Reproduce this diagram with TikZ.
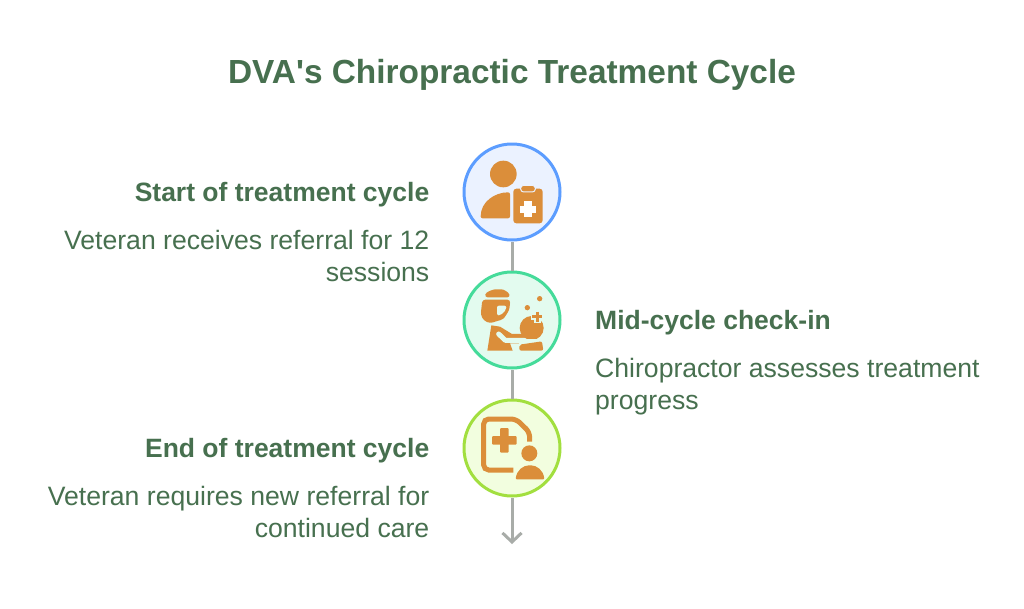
\documentclass[tikz,border=0pt]{standalone}
\usepackage{fontspec}
\setmainfont[Ligatures=TeXOff]{Liberation Sans}
\usetikzlibrary{arrows.meta}
\definecolor{txtgreen}{HTML}{47704F}
\definecolor{iconorange}{HTML}{DB8E3A}
\definecolor{linegray}{HTML}{A8ACA8}
\definecolor{fillA}{HTML}{EBF2FF}
\definecolor{edgeA}{HTML}{5C9DFF}
\definecolor{fillB}{HTML}{E3FBEF}
\definecolor{edgeB}{HTML}{45DB9A}
\definecolor{fillC}{HTML}{F2FEDF}
\definecolor{edgeC}{HTML}{A2DF3F}
\tikzset{
  stepcircle/.style={circle,inner sep=0pt,minimum size=96pt,line width=3pt},
  titletext/.style={text=txtgreen,font=\fontsize{33.4}{38}\selectfont\bfseries,anchor=base},
  headtext/.style={text=txtgreen,font=\fontsize{26.5}{32}\selectfont\bfseries,inner sep=0pt},
  bodytext/.style={text=txtgreen,font=\fontsize{26.6}{32}\selectfont,inner sep=0pt,align=left},
  bodyright/.style={bodytext,align=right},
  link/.style={draw=linegray,line width=3pt},
  zoomA/.style={shift={(450pt,-130pt)},x=0.3333pt,y=-0.3333pt},
  zoomB/.style={shift={(450pt,-260pt)},x=0.3333pt,y=-0.3333pt},
  zoomC/.style={shift={(450pt,-390pt)},x=0.3333pt,y=-0.3333pt},
}
\begin{document}
\begin{tikzpicture}[x=1pt,y=-1pt]
\useasboundingbox[fill=white] (0,0) rectangle (1024,608);
\node[titletext] (title) at (512,83) {DVA's Chiropractic Treatment Cycle};

\node[stepcircle,fill=fillA,draw=edgeA] (c1) at (512,192) {};
\node[stepcircle,fill=fillB,draw=edgeB] (c2) at (512,320) {};
\node[stepcircle,fill=fillC,draw=edgeC] (c3) at (512,448) {};
\coordinate (tail) at (512,544);
\draw[link] (c1) -- (c2);
\draw[link] (c2) -- (c3);
\draw[link,-{Straight Barb[length=9pt,width=19pt,line width=3pt]}] (c3) -- (tail);

% icon 1
\begin{scope}[zoomA]
\fill[iconorange] (160,132) circle (40);
\fill[iconorange,rounded corners=2pt] (92,265) .. controls (92,215) and (135,187) .. (180,187) -- (180,265) -- cycle;
\fill[iconorange,rounded corners=3pt] (190,176) rectangle (278,280);
\fill[iconorange,rounded corners=3pt,draw=fillA,line width=1pt] (212,166) rectangle (256,186);
\fill[white] (223,214) rectangle (245,262);
\fill[white] (209,227) rectangle (259,249);
\end{scope}

% icon 2
\begin{scope}[zoomB]
\fill[iconorange,rounded corners=3pt] (104,112) .. controls (108,95) and (130,88) .. (145,88) .. controls (160,88) and (175,95) .. (181,112) -- cycle;
\fill[iconorange,rounded corners=3pt] (97,119) -- (181,119) -- (178,150) -- (160,178) -- (145,182) -- (120,190) -- (102,182) -- (92,165) -- cycle;
\fill[fillB,rounded corners=2pt] (141,137) -- (169,137) -- (169,148) -- (152,166) -- (141,166) -- cycle;
\fill[iconorange] (124,196) -- (150,200) -- (186,222) -- (232,222) -- (240,250) -- (180,250) -- (188,272) -- (112,272) -- cycle;
\draw[fillB,line width=5pt,line cap=round,line join=round] (146,222) -- (166,241) -- (240,241);
\fill[iconorange] (245,204) circle (36);
\draw[fillB,line width=5pt] (206,246) -- (285,246);
\fill[iconorange,rounded corners=2pt] (208,254) -- (276,244) -- (280,272) -- (208,272) -- cycle;
\draw[fillB,line width=7pt] (262,170) ++(-18,0) -- ++(36,0) (262,170) ++(0,-18) -- ++(0,36);
\draw[iconorange,line width=3.4pt] (262,170) ++(-15,0) -- ++(30,0) (262,170) ++(0,-15) -- ++(0,30);
\fill[iconorange] (232,143) circle (8);
\fill[iconorange] (269,116) circle (8);
\end{scope}

% icon 3
\begin{scope}[zoomC]
\draw[iconorange,line width=5pt,rounded corners=5pt] (239,155) -- (239,127) -- (198,87) -- (101,87) -- (101,240) -- (190,240);
\fill[iconorange,rounded corners=1pt] (150,114) rectangle (176,188);
\fill[iconorange,rounded corners=1pt] (126,138) rectangle (200,164);
\fill[iconorange] (238,190) circle (24);
\fill[iconorange,rounded corners=1pt] (197,268) .. controls (200,240) and (220,226) .. (240,226) .. controls (260,226) and (280,240) .. (283,268) -- cycle;
\end{scope}

% labels
\node[headtext,anchor=base east] (h1) at (429.5,201) {Start of treatment cycle};
\node[bodyright,anchor=north east] (b1) at (429.5,230) {Veteran receives referral for 12\\sessions};
\node[headtext,anchor=base west] (h2) at (595,329) {Mid-cycle check-in};
\node[bodytext,anchor=north west] (b2) at (595,358) {Chiropractor assesses treatment\\progress};
\node[headtext,anchor=base east] (h3) at (429.5,457) {End of treatment cycle};
\node[bodyright,anchor=north east] (b3) at (429.5,486) {Veteran requires new referral for\\continued care};
\end{tikzpicture}
\end{document}
